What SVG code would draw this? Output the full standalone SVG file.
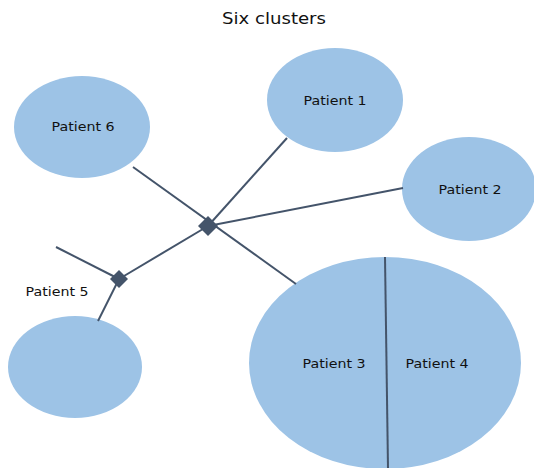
<svg xmlns="http://www.w3.org/2000/svg" width="534" height="468" viewBox="0 0 534 468">
<style>
.n{fill:#9DC3E6;stroke:none}
.t{font-family:"DejaVu Sans",sans-serif;font-size:12.5px;fill:#111;text-anchor:middle}
.c line{stroke:#44546A;stroke-width:2}
.d{fill:#44546A}
</style>
<rect width="534" height="468" fill="#fff"/>
<text x="274" y="24" textLength="104" lengthAdjust="spacingAndGlyphs" style="font-family:'DejaVu Sans',sans-serif;font-size:16px;fill:#111;text-anchor:middle">Six clusters</text>
<g id="p6"><ellipse class="n" cx="82" cy="127" rx="68" ry="51"/><text class="t" x="83" y="131" textLength="63" lengthAdjust="spacingAndGlyphs">Patient 6</text></g>
<g id="p1"><ellipse class="n" cx="335" cy="100" rx="68" ry="52"/><text class="t" x="335" y="105" textLength="63" lengthAdjust="spacingAndGlyphs">Patient 1</text></g>
<g id="p2"><ellipse class="n" cx="469" cy="189" rx="67" ry="52"/><text class="t" x="470" y="194" textLength="63" lengthAdjust="spacingAndGlyphs">Patient 2</text></g>
<g id="p5"><ellipse class="n" cx="75" cy="367" rx="67" ry="51"/><text class="t" x="57" y="296" textLength="63" lengthAdjust="spacingAndGlyphs">Patient 5</text></g>
<g id="p34"><ellipse class="n" cx="385" cy="363" rx="136" ry="106"/><text class="t" x="334" y="368" textLength="63" lengthAdjust="spacingAndGlyphs">Patient 3</text><text class="t" x="437" y="368" textLength="63" lengthAdjust="spacingAndGlyphs">Patient 4</text></g>
<g class="c" id="connectors">
<line x1="133" y1="167" x2="296" y2="284"/>
<line x1="287" y1="138" x2="208" y2="226"/>
<line x1="403" y1="188" x2="208" y2="226"/>
<line x1="208" y1="226" x2="119" y2="279"/>
<line x1="56" y1="247" x2="119" y2="279"/>
<line x1="119" y1="279" x2="98" y2="321"/>
<line x1="385" y1="257" x2="388" y2="468"/>
<polygon class="d" points="208,216 218,226 208,236 198,226"/>
<polygon class="d" points="119,270 128,279 119,288 110,279"/>
</g>
</svg>
